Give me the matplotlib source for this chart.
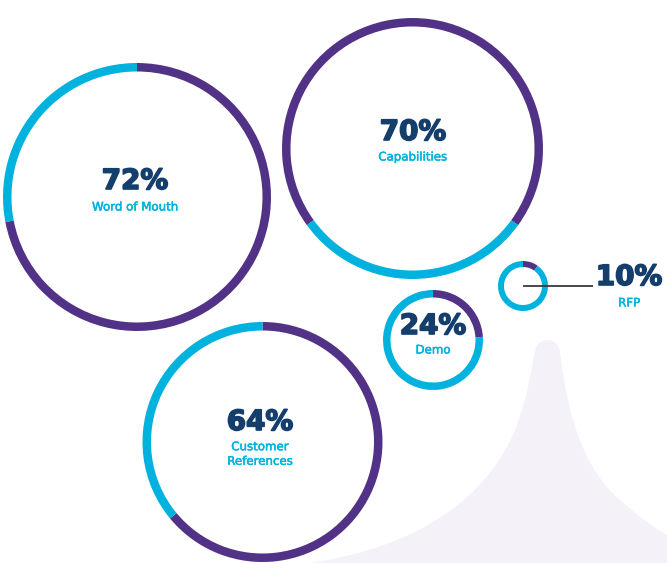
import matplotlib
matplotlib.use("Agg")
import matplotlib.pyplot as plt
import matplotlib.patheffects as pe
from matplotlib.path import Path
from matplotlib.patches import PathPatch

# ---- data ----
categories = ["Word of Mouth", "Capabilities", "Customer\nReferences", "Demo", "RFP"]
values = [72, 70, 64, 24, 10]
pct_labels = ["72%", "70%", "64%", "24%", "10%"]

# ---- layout (pixel coords, y measured from top) ----
centers = [(137, 197), (412.5, 148.5), (262.5, 442), (433, 340), (523, 286)]
radii = [134, 130.5, 120, 50, 25]
widths = [8.5, 8.5, 8.5, 7.5, 6]
start_angles = [90, -36, 90, 90, 90]
clockwise = [True, False, True, True, True]

PURPLE = "#523286"
CYAN = "#00B2DD"
NAVY = "#143E6C"
SHAPE = "#F4F2F8"

W, H = 667, 563
fig = plt.figure(figsize=(W / 100, H / 100), dpi=100)
ax = fig.add_axes([0, 0, 1, 1])

def Y(y):
    return H - y

# decorative background shape
verts = [
    (310, 563),
    (430, 545), (490, 490), (515, 430),
    (530, 390), (532, 362), (535, 352),
    (537, 336), (558, 336), (560, 352),
    (568, 420), (585, 470), (620, 500),
    (640, 518), (655, 528), (667, 535),
    (667, 563),
    (310, 563),
]
codes = [Path.MOVETO] + [Path.CURVE4] * 15 + [Path.LINETO, Path.CLOSEPOLY]
verts = [(x, Y(y)) for x, y in verts]
ax.add_patch(PathPatch(Path(verts, codes), facecolor=SHAPE, edgecolor="none", zorder=0))

# rings
for v, c, r, w, sa, cw in zip(values, centers, radii, widths, start_angles, clockwise):
    ax.pie([v, 100 - v], colors=[PURPLE, CYAN], center=(c[0], Y(c[1])), radius=r,
           startangle=sa, counterclock=not cw,
           wedgeprops=dict(width=w, edgecolor="none", linewidth=0))

# RFP connector line
rc = centers[4]
ax.plot([rc[0], 593], [Y(rc[1]), Y(rc[1])], color="#3C3C3C", lw=1.3, zorder=5,
        solid_capstyle="butt")

# texts
pct_pos = [(135, 181), (413, 132), (260, 422), (433, 326), (629, 277)]
lab_pos = [(135, 207), (413, 157), (260, 454), (433, 350), (629, 303)]
heavy = [pe.withStroke(linewidth=1.2, foreground=NAVY)]
medium = [pe.withStroke(linewidth=0.35, foreground=CYAN)]
for p, lab, pp, lp in zip(pct_labels, categories, pct_pos, lab_pos):
    ax.text(pp[0], Y(pp[1]), p, ha="center", va="center", fontsize=20,
            fontweight="bold", color=NAVY, family="DejaVu Sans", zorder=6,
            path_effects=heavy)
    ax.text(lp[0], Y(lp[1]), lab, ha="center", va="center", fontsize=8.5,
            color=CYAN, family="DejaVu Sans", linespacing=1.15, zorder=6,
            path_effects=medium)

ax.set_xlim(0, W)
ax.set_ylim(0, H)
ax.set_aspect("equal")
ax.axis("off")
fig.savefig("out.png", dpi=100, facecolor="white")
